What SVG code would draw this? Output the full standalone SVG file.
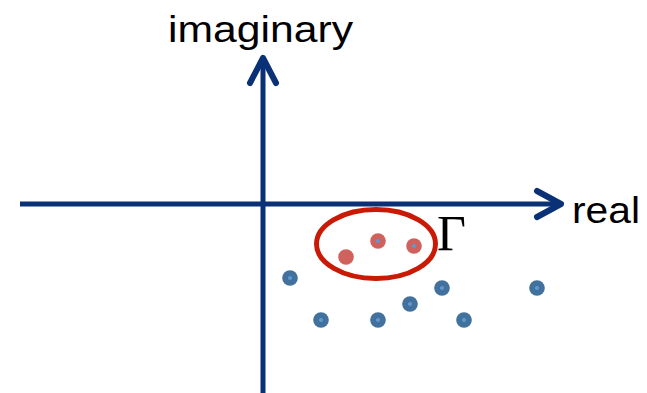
<svg xmlns="http://www.w3.org/2000/svg" width="647" height="393" viewBox="0 0 647 393">
<style>
.axis{stroke:#0A3176;stroke-width:5;fill:none;stroke-linecap:butt}
.head{stroke:#0A3176;stroke-width:6;fill:none;stroke-linecap:round;stroke-linejoin:round}
.lbl{font-family:"Liberation Sans",Arial,sans-serif;font-size:37px;fill:#000}
.blue{fill:#41719C}
.red{fill:#D0625D}
.core{fill:#5B9BD5}
</style>
<rect width="647" height="393" fill="#fff"/>
<g id="connectors">
<line class="axis" x1="20" y1="204" x2="560" y2="204"/>
<polyline class="head" points="537,191 561,204 537,217"/>
<line class="axis" x1="263" y1="393" x2="263" y2="60"/>
<polyline class="head" points="250,83 263,58 276,83"/>
</g>
<g id="label-imaginary"><text class="lbl" x="168" y="42" textLength="185" lengthAdjust="spacingAndGlyphs">imaginary</text></g>
<g id="label-real"><text class="lbl" x="572" y="223" textLength="68" lengthAdjust="spacingAndGlyphs">real</text></g>
<g id="contour">
<ellipse cx="376" cy="244" rx="59.5" ry="34.5" fill="none" stroke="#C81A05" stroke-width="5"/>
<text x="437" y="250" font-family="'Liberation Serif','Times New Roman',serif" font-size="50" fill="#000">Γ</text>
</g>
<g id="red-points">
<circle class="red" cx="346" cy="257" r="7.8"/>
<circle class="red" cx="378" cy="241" r="7.8"/><circle class="core" cx="378" cy="241" r="2"/>
<circle class="red" cx="414" cy="246" r="7.8"/><circle class="core" cx="414" cy="246" r="2"/>
</g>
<g id="blue-points">
<circle class="blue" cx="290" cy="278" r="7.8"/><circle class="core" cx="290" cy="278" r="2"/>
<circle class="blue" cx="321" cy="320" r="7.8"/><circle class="core" cx="321" cy="320" r="2"/>
<circle class="blue" cx="378" cy="320" r="7.8"/><circle class="core" cx="378" cy="320" r="2"/>
<circle class="blue" cx="410" cy="304" r="7.8"/><circle class="core" cx="410" cy="304" r="2"/>
<circle class="blue" cx="442" cy="288" r="7.8"/><circle class="core" cx="442" cy="288" r="2"/>
<circle class="blue" cx="464" cy="320" r="7.8"/><circle class="core" cx="464" cy="320" r="2"/>
<circle class="blue" cx="537" cy="288" r="7.8"/><circle class="core" cx="537" cy="288" r="2"/>
</g>
</svg>
